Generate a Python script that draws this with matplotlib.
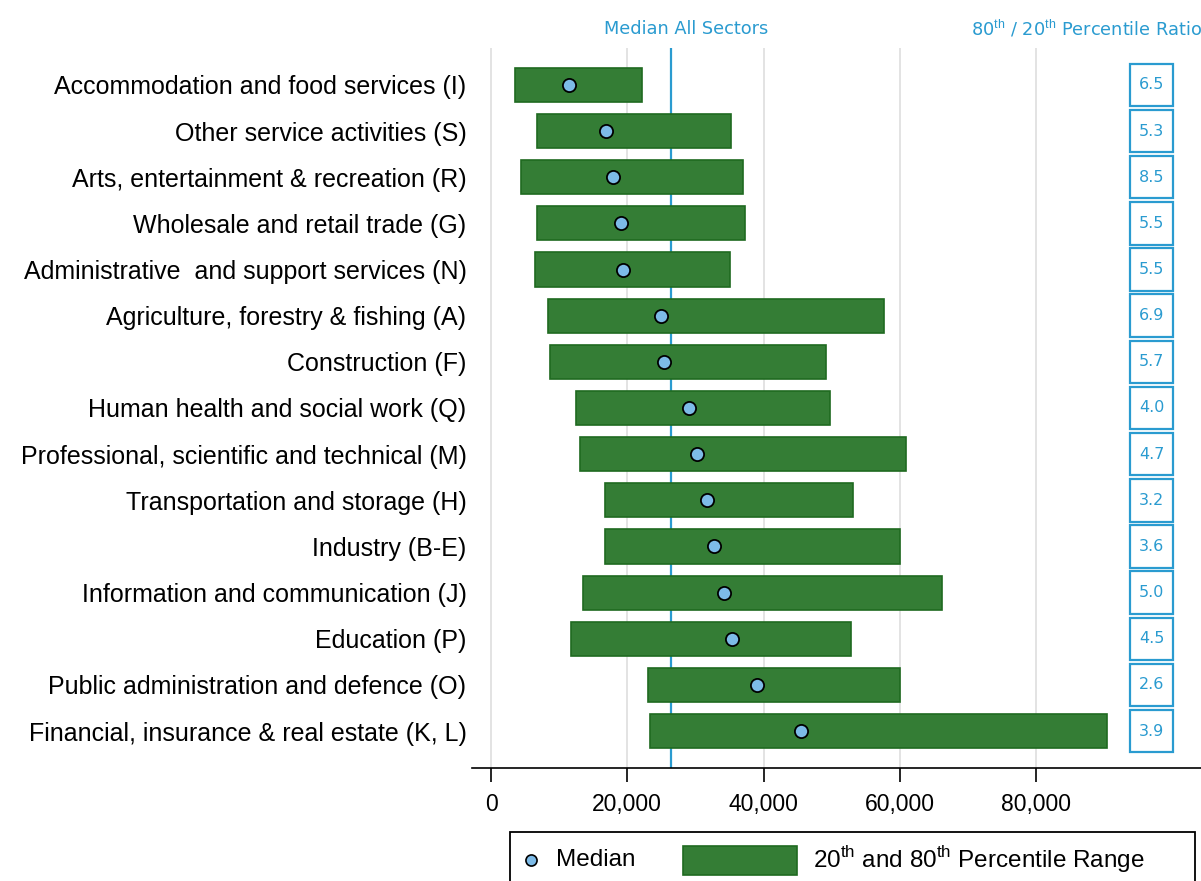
import numpy as np
import matplotlib.pyplot as plt
from matplotlib.patches import Rectangle
from matplotlib.lines import Line2D
from matplotlib.transforms import blended_transform_factory
from matplotlib.ticker import FuncFormatter

plt.rcParams['font.family'] = ['Liberation Sans', 'DejaVu Sans']
plt.rcParams['mathtext.fontset'] = 'custom'
plt.rcParams['mathtext.rm'] = 'Liberation Sans'

sectors = ['Accommodation and food services (I)', 'Other service activities (S)',
           'Arts, entertainment & recreation (R)', 'Wholesale and retail trade (G)',
           'Administrative  and support services (N)', 'Agriculture, forestry & fishing (A)',
           'Construction (F)', 'Human health and social work (Q)',
           'Professional, scientific and technical (M)', 'Transportation and storage (H)',
           'Industry (B-E)', 'Information and communication (J)', 'Education (P)',
           'Public administration and defence (O)', 'Financial, insurance & real estate (K, L)']
p20 = [3500, 6750, 4400, 6750, 6450, 8350, 8650, 12450, 13050, 16700, 16700, 13500, 11700, 23000, 23300]
p80 = [22150, 35200, 36950, 37250, 35050, 57650, 49150, 49750, 60900, 53100, 60000, 66150, 52800, 60000, 90400]
medians = [11450, 16850, 17900, 19100, 19400, 24950, 25400, 29050, 30250, 31700, 32700, 34200, 35350, 39050, 45500]
ratios = ['6.5', '5.3', '8.5', '5.5', '5.5', '6.9', '5.7', '4.0', '4.7', '3.2', '3.6', '5.0', '4.5', '2.6', '3.9']
median_all = 26400
xticks = [0, 20000, 40000, 60000, 80000]

green = '#347d35'
green_edge = '#1f6a20'
blue = '#2a9bd0'
dot = '#7dbbe8'

W, H = 1201, 881
fig = plt.figure(figsize=(W / 100, H / 100), dpi=100)
ax = fig.add_axes([472 / W, 113 / H, 729 / W, 720 / H])

y = np.arange(len(sectors))
ax.barh(y, np.array(p80) - np.array(p20), left=p20, height=0.74,
        color=green, edgecolor=green_edge, linewidth=1.2, zorder=3)
ax.scatter(medians, y, s=90, color=dot, edgecolor='black', linewidth=1.3, zorder=4)

for xv in xticks:
    ax.axvline(xv, color='#dedede', lw=1.2, zorder=1)
ax.axvline(median_all, color=blue, lw=1.6, zorder=2)

ax.set_xlim(-2790, 104220)
ax.set_ylim(len(sectors) - 0.2, -0.8)
ax.set_yticks(y)
ax.set_yticklabels(sectors, fontsize=18)
ax.tick_params(axis='y', length=0, pad=4)
ax.set_xticks(xticks)
ax.xaxis.set_major_formatter(FuncFormatter(lambda v, p: f'{int(v):,}'))
ax.tick_params(axis='x', length=10, width=1.2, labelsize=16.5, pad=8)
for s in ['left', 'right', 'top']:
    ax.spines[s].set_visible(False)
ax.spines['bottom'].set_linewidth(1.2)

# ratio boxes
tr = blended_transform_factory(ax.transAxes, ax.transData)
bx0, bw = (1130 - 472) / 729, 43 / 729
for i, r in enumerate(ratios):
    ax.add_patch(Rectangle((bx0, i - 0.46), bw, 0.92, transform=tr, fill=False,
                           edgecolor=blue, lw=1.6, clip_on=False, zorder=3))
    ax.text(bx0 + bw / 2, i, r, transform=tr, ha='center', va='center',
            fontsize=11.5, color=blue, family='DejaVu Sans')

ax.text((686 - 472) / 729, 1 + 19 / 720, 'Median All Sectors', transform=ax.transAxes,
        ha='center', va='center', fontsize=12.8, color=blue, family='DejaVu Sans')
ax.text((971 - 472) / 729, 1 + 19 / 720, r'80$^{\mathrm{th}}$ / 20$^{\mathrm{th}}$ Percentile Ratio',
        transform=ax.transAxes, ha='left', va='center', fontsize=12.8, color=blue,
        family='DejaVu Sans', clip_on=False)

# legend drawn in figure pixels
ft = fig.transFigure
fig.add_artist(Rectangle((510 / W, -0.05), (1195 - 510) / W, (881 - 832) / H + 0.05,
                         transform=ft, fill=False, edgecolor='black', lw=1.3))
fig.add_artist(Line2D([531 / W], [(881 - 860) / H], transform=ft, marker='o', ls='',
                      markersize=8, markerfacecolor=dot, markeredgecolor='black', markeredgewidth=1.2))
fig.text(556 / W, (881 - 860) / H, 'Median', transform=ft, ha='left', va='center', fontsize=17.5)
fig.add_artist(Rectangle((683 / W, (881 - 875) / H), 114 / W, 29 / H, transform=ft,
                         facecolor=green, edgecolor=green_edge, lw=1.2))
fig.text(813 / W, (881 - 860) / H, r'20$^{\mathrm{th}}$ and 80$^{\mathrm{th}}$ Percentile Range',
         transform=ft, ha='left', va='center', fontsize=17.5)

fig.savefig('out.png', dpi=100)
